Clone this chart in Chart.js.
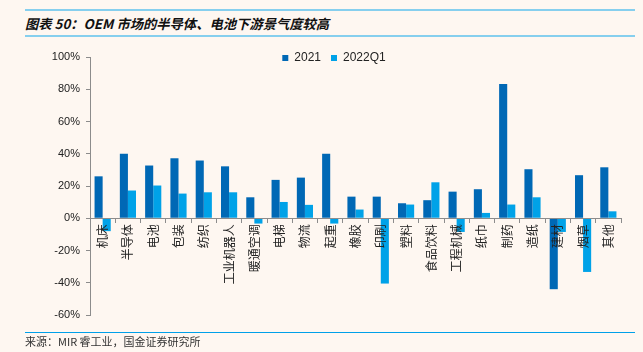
<!DOCTYPE html>
<html>
<head>
<meta charset="utf-8">
<script src="https://cdn.jsdelivr.net/npm/chart.js@4.4.1/dist/chart.umd.min.js"></script>
<style>
  html, body { margin: 0; padding: 0; }
  body { width: 643px; height: 352px; background: #fef7f1; position: relative; overflow: hidden; }
  .line { position: absolute; left: 25px; width: 610px; }
  #title { position: absolute; left: 25px; top: 14px; font: italic bold 13.3px "Noto Sans CJK SC", "Liberation Sans", sans-serif; color: #111; white-space: nowrap; }
  #source { position: absolute; left: 25px; top: 334px; font: 11px "Noto Sans CJK SC", sans-serif; color: #333; white-space: nowrap; line-height: 14px; }
  #wrap { position: absolute; left: 0; top: 0; width: 643px; height: 352px; }
</style>
</head>
<body>
<div class="line" style="top:9px;height:2px;background:#86cfee"></div>
<div id="title">图表 50：OEM 市场的半导体、电池下游景气度较高</div>
<div class="line" style="top:35px;height:2px;background:#86cfee"></div>
<div id="wrap"><canvas id="chartOem" width="643" height="352"></canvas></div>
<div class="line" style="top:332px;height:1px;background:#00a0e9"></div>
<div id="source">来源：MIR 睿工业，国金证券研究所</div>

<script>
  /* Datos */
  const categories = ['机床', '半导体', '电池', '包装', '纺织', '工业机器人', '暖通空调', '电梯', '物流', '起重', '橡胶',
    '印刷', '塑料', '食品饮料', '工程机械', '纸巾', '制药', '造纸', '建材', '烟草', '其他'];
  const seriesNames = ['2021', '2022Q1'];
  const values2021 = [26, 40, 32.7, 37.2, 35.8, 32.2, 13, 23.8, 25.2, 40, 13.4,
    13.4, 9.3, 11.2, 16.5, 18, 83.3, 30.4, -44, 26.7, 31.6];
  const values2022Q1 = [-8, 17.2, 20.3, 15.3, 16.1, 16.1, -3.3, 10.1, 8.3, -3.3, 5.4,
    -40.5, 8.5, 22.3, -8.5, 3.3, 8.5, 13, -8.5, -33.3, 4.3];
  const yMin = -60;
  const yMax = 100;
  const yStep = 20;

  const axisColor = '#8c8c8c';

  /* Leyenda dentro del area del grafico */
  const legendInside = {
    id: 'legendInside',
    beforeLayout(chart) {
      let lg = chart.legend;
      if (lg && !lg._inside) {
        let fit = lg.fit;
        lg.fit = function () {
          fit.call(this);
          this.height = 0;
        };
        lg._inside = true;
      }
    },
    afterLayout(chart) {
      let lg = chart.legend;
      if (!lg) return;
      let pad = lg.options.labels.padding;
      lg.top = 58 - pad - 6;
      lg.bottom = lg.top + 2 * pad + 14;
      let dx = 334 - (lg.left + lg.right) / 2;
      lg.left += dx;
      lg.right += dx;
    },
  };

  const ctx = document.getElementById('chartOem');
  const chartOem = new Chart(ctx, {
    type: 'bar',
    plugins: [legendInside],
    data: {
      labels: categories,
      datasets: [
        {
          label: seriesNames[0],
          data: values2021,
          backgroundColor: '#0068b5',
          categoryPercentage: 0.64,
          barPercentage: 1,
        },
        {
          label: seriesNames[1],
          data: values2022Q1,
          backgroundColor: '#00a2e8',
          categoryPercentage: 0.64,
          barPercentage: 1,
        },
      ],
    },
    options: {
      responsive: false,
      animation: false,
      maintainAspectRatio: false,
      layout: {
        padding: { top: 57, bottom: 37, left: 0, right: 22 },
      },
      scales: {
        x: {
          position: { y: 0 },
          grid: {
            drawOnChartArea: false,
            drawTicks: true,
            tickLength: 4,
            color: axisColor,
            offset: true,
            z: 1,
          },
          border: { display: true, color: axisColor, width: 1, z: 1 },
          ticks: {
            z: 1,
            autoSkip: false,
            minRotation: 90,
            maxRotation: 90,
            padding: 2,
            color: '#222',
            font: { family: '"Noto Sans CJK SC", sans-serif', size: 12 },
          },
        },
        y: {
          min: yMin,
          max: yMax,
          afterFit: function (scale) {
            scale.width = 90;
          },
          grid: {
            drawOnChartArea: false,
            tickLength: 4,
            color: axisColor,
          },
          border: { display: true, color: axisColor, width: 1 },
          ticks: {
            stepSize: yStep,
            padding: 6,
            color: '#222',
            font: { family: '"Liberation Sans", Arial, sans-serif', size: 11 },
            callback: (value) => value + '%',
          },
        },
      },
      plugins: {
        legend: {
          display: true,
          position: 'top',
          labels: {
            boxWidth: 6,
            boxHeight: 6,
            padding: 10,
            color: '#222',
            font: { family: '"Liberation Sans", Arial, sans-serif', size: 12 },
          },
        },
        tooltip: { enabled: false },
      },
    },
  });
</script>
</body>
</html>
